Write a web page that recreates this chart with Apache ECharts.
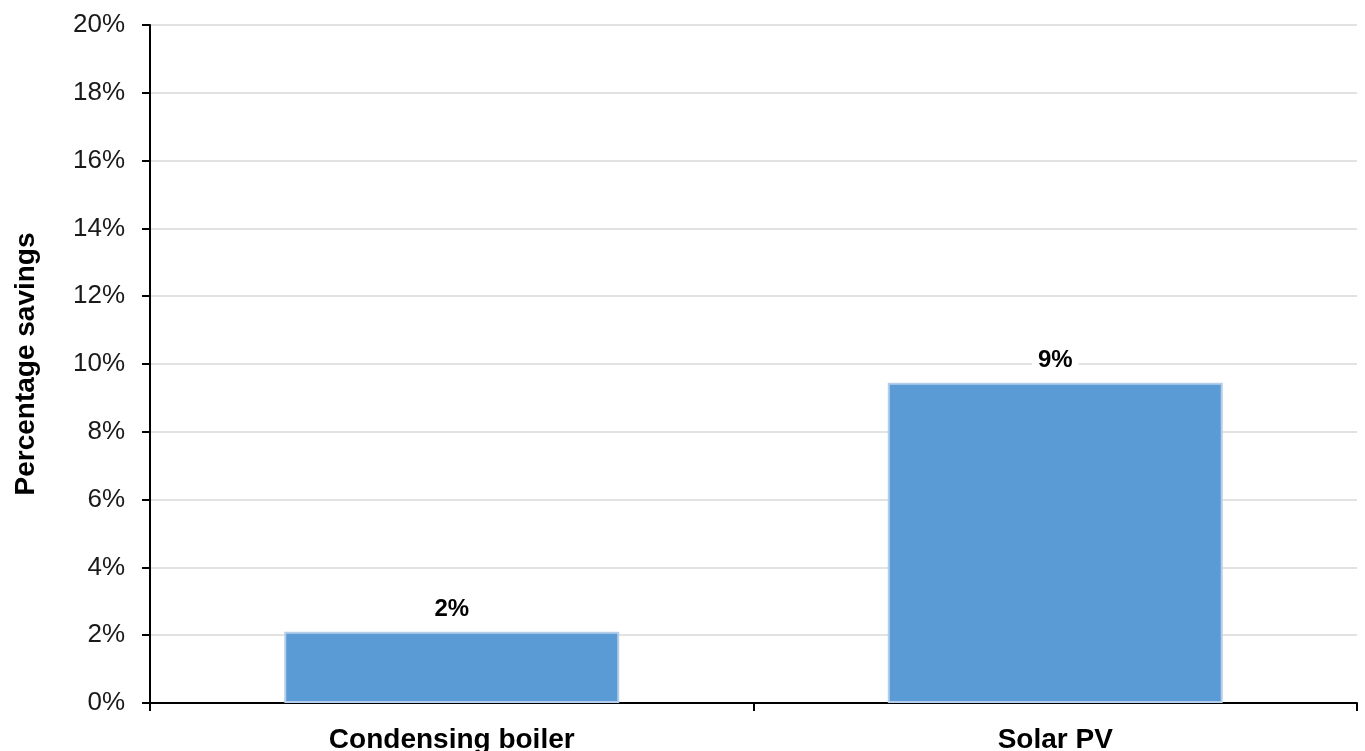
<!DOCTYPE html>
<html>
<head>
<meta charset="utf-8">
<script src="https://cdn.jsdelivr.net/npm/echarts@6/dist/echarts.min.js"></script>
<style>
html,body{margin:0;padding:0;background:#fff;}
#chart{width:1365px;height:751px;}
</style>
</head>
<body>
<div id="chart"></div>
<script>
var categories = ['Condensing boiler', 'Solar PV'];
var savings = [2.1, 9.45];
var yTicks = [0, 2, 4, 6, 8, 10, 12, 14, 16, 18, 20];
var yTitle = 'Percentage savings';

var FONT = 'Liberation Sans, Arial, sans-serif';
var chart = echarts.init(document.getElementById('chart'), null, {renderer: 'canvas'});
chart.setOption({
  animation: false,
  backgroundColor: '#ffffff',
  textStyle: {fontFamily: FONT},
  grid: {left: 150, right: 8, top: 25, bottom: 48, containLabel: false, outerBoundsMode: 'none'},
  xAxis: {
    type: 'category',
    data: categories,
    boundaryGap: true,
    axisLine: {show: true, lineStyle: {color: '#000', width: 2}},
    axisTick: {show: true, length: 8, inside: false, lineStyle: {color: '#000', width: 2}},
    axisLabel: {margin: 23, color: '#000', fontSize: 28, fontWeight: 'bold', fontFamily: FONT},
    splitLine: {show: false}
  },
  yAxis: {
    type: 'value',
    min: yTicks[0],
    max: yTicks[yTicks.length - 1],
    interval: 2,
    name: yTitle,
    nameLocation: 'middle',
    nameGap: 110,
    nameRotate: 90,
    nameTextStyle: {color: '#000', fontSize: 28, fontWeight: 'bold', fontFamily: FONT},
    axisLine: {show: true, lineStyle: {color: '#000', width: 2}},
    axisTick: {show: true, length: 8, inside: false, lineStyle: {color: '#000', width: 2}},
    axisLabel: {margin: 25, color: '#1a1a1a', fontSize: 26, fontFamily: FONT, formatter: function (v) { return v + '%'; }},
    splitLine: {show: true, lineStyle: {color: '#d9d9d9', width: 1.5}}
  },
  series: [{
    type: 'bar',
    data: savings,
    barWidth: '55.5%',
    itemStyle: {color: '#5b9bd5', borderColor: '#b4cdea', borderWidth: 2},
    label: {
      show: true,
      position: 'top',
      distance: 8,
      color: '#000',
      fontSize: 24,
      fontWeight: 'bold',
      fontFamily: FONT,
      backgroundColor: '#fff',
      padding: [2, 6],
      formatter: function (p) { return Math.round(p.value) + '%'; }
    }
  }]
});
</script>
</body>
</html>
